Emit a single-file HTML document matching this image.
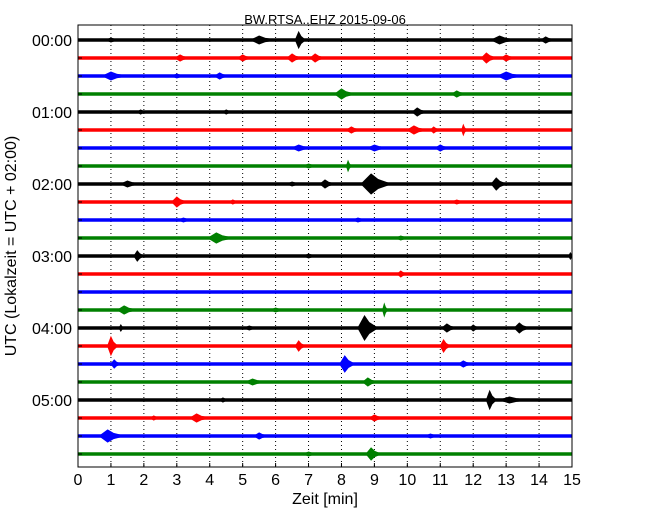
<!DOCTYPE html>
<html><head><meta charset="utf-8"><style>
body{margin:0;background:#fff}
svg{display:block;font-family:"Liberation Sans","DejaVu Sans",sans-serif}
</style></head><body>
<svg id="c" width="650" height="520">
<text x="325" y="24" text-anchor="middle" font-size="13">BW.RTSA..EHZ 2015-09-06</text>
<text transform="translate(16,246) rotate(-90)" text-anchor="middle" font-size="16">UTC (Lokalzeit = UTC + 02:00)</text>
<text x="325" y="504" text-anchor="middle" font-size="16">Zeit  [min]</text>
</svg>
<script>
const xTicks=[0,1,2,3,4,5,6,7,8,9,10,11,12,13,14,15];
const hourLabels=["00:00","01:00","02:00","03:00","04:00","05:00"];
const traceColors=["#000","#f00","#00f","#008000"];
// events per trace: [minute, half-amplitude(px), duration(min)]
const ev0=[[1.0,2,0.3],[5.5,4,0.5],[6.7,8,0.2],[12.8,4,0.5],[14.2,3,0.3]];
const ev1=[[3.1,3,0.3],[5.0,3,0.3],[6.5,4,0.3],[7.2,4,0.3],[12.4,5,0.3],[13.0,3,0.3]];
const ev2=[[1.0,4,0.5],[3.0,2,0.3],[4.3,3,0.3],[13.0,4,0.5]];
const ev3=[[8.0,5,0.4],[11.5,3,0.3]];
const ev4=[[1.9,2,0.2],[4.5,2,0.2],[10.3,4,0.3]];
const ev5=[[8.3,3,0.3],[10.2,4,0.4],[10.8,3,0.2],[11.7,5,0.1]];
const ev6=[[6.7,3,0.4],[9.0,3,0.4],[11.0,3,0.3]];
const ev7=[[7.0,2,0.3],[8.2,5,0.1]];
const ev8=[[1.5,3,0.4],[6.5,2,0.3],[7.5,4,0.3],[8.9,10,0.6],[12.7,6,0.3]];
const ev9=[[3.0,5,0.3],[4.7,2,0.2],[11.5,2,0.3]];
const ev10=[[3.2,2,0.3],[8.5,2,0.3]];
const ev11=[[4.2,5,0.5],[9.8,2,0.3]];
const ev12=[[1.8,5,0.2],[7.0,2,0.3],[14.95,3,0.1]];
const ev13=[[9.8,3,0.2]];
const ev14=[];
const ev15=[[1.4,4,0.4],[6.0,2,0.3],[9.3,6,0.1]];
const ev16=[[1.3,3,0.1],[5.2,2,0.3],[8.7,12,0.4],[11.2,4,0.3],[12.0,3,0.2],[13.4,5,0.3]];
const ev17=[[1.0,9,0.2],[6.7,5,0.2],[11.1,6,0.2]];
const ev18=[[1.1,4,0.2],[8.1,8,0.3],[11.7,3,0.3]];
const ev19=[[5.3,3,0.4],[8.8,4,0.3]];
const ev20=[[4.4,2,0.2],[12.5,9,0.2],[13.1,3,0.6]];
const ev21=[[2.3,2,0.2],[3.6,4,0.4],[9.0,3,0.3]];
const ev22=[[0.9,6,0.5],[5.5,3,0.3],[10.7,2,0.3]];
const ev23=[[7.0,2,0.3],[8.9,6,0.3]];
const events=[ev0,ev1,ev2,ev3,ev4,ev5,ev6,ev7,ev8,ev9,ev10,ev11,ev12,ev13,ev14,ev15,ev16,ev17,ev18,ev19,ev20,ev21,ev22,ev23];

const svg=document.getElementById('c');const NS="http://www.w3.org/2000/svg";
const L=78,R=572,T=25,B=467;
const xs=m=>L+(R-L)*m/15;
const ys=i=>40+18*i;
function mk(t,a){const e=document.createElementNS(NS,t);for(const k in a)e.setAttribute(k,a[k]);svg.appendChild(e);return e;}
xTicks.forEach(m=>{
  if(m>0&&m<15){const g=mk('line',{x1:xs(m),x2:xs(m),y1:T,y2:B,stroke:'#000','stroke-width':1,'stroke-dasharray':'1,3'});
  
  }
  const tk=mk('line',{x1:xs(m),x2:xs(m),y1:B,y2:B-4,stroke:'#000'});
  
  
  const t=mk('text',{x:xs(m),y:485,'text-anchor':'middle','font-size':16});t.textContent=m;
  
  
});
events.forEach((evs,i)=>{
  const y=ys(i),col=traceColors[i%4];
  const g=mk('g',{fill:col,stroke:col});
  
  
  const base=document.createElementNS(NS,'line');
  base.setAttribute('x1',L);base.setAttribute('x2',R);base.setAttribute('y1',y);base.setAttribute('y2',y);base.setAttribute('stroke-width',3.5);
  g.appendChild(base);
  evs.forEach(([m,a,d])=>{
    const p=document.createElementNS(NS,'polygon');
    const x0=xs(Math.max(0,m-d*0.5)),x1=xs(m),x2=xs(Math.min(15,m+d*1.0));
    const xa=xs(Math.min(15,m+d*0.35));
    p.setAttribute('points',`${x0},${y} ${x1},${y-a} ${xa},${y-a*0.45} ${x2},${y} ${xa},${y+a*0.45} ${x1},${y+a}`);
    p.setAttribute('stroke-width',1);
    
    
    g.appendChild(p);
  });
  const tk=mk('line',{x1:L,x2:L+4,y1:y,y2:y,stroke:'#000'});
  
  
  if(i%4===0){const t=mk('text',{x:72,y:y+6,'text-anchor':'end','font-size':16});t.textContent=hourLabels[i/4];
  
  }
});
const fr=mk('rect',{x:L,y:T,width:R-L,height:B-T,fill:'none',stroke:'#000'});


</script>
</body></html>
